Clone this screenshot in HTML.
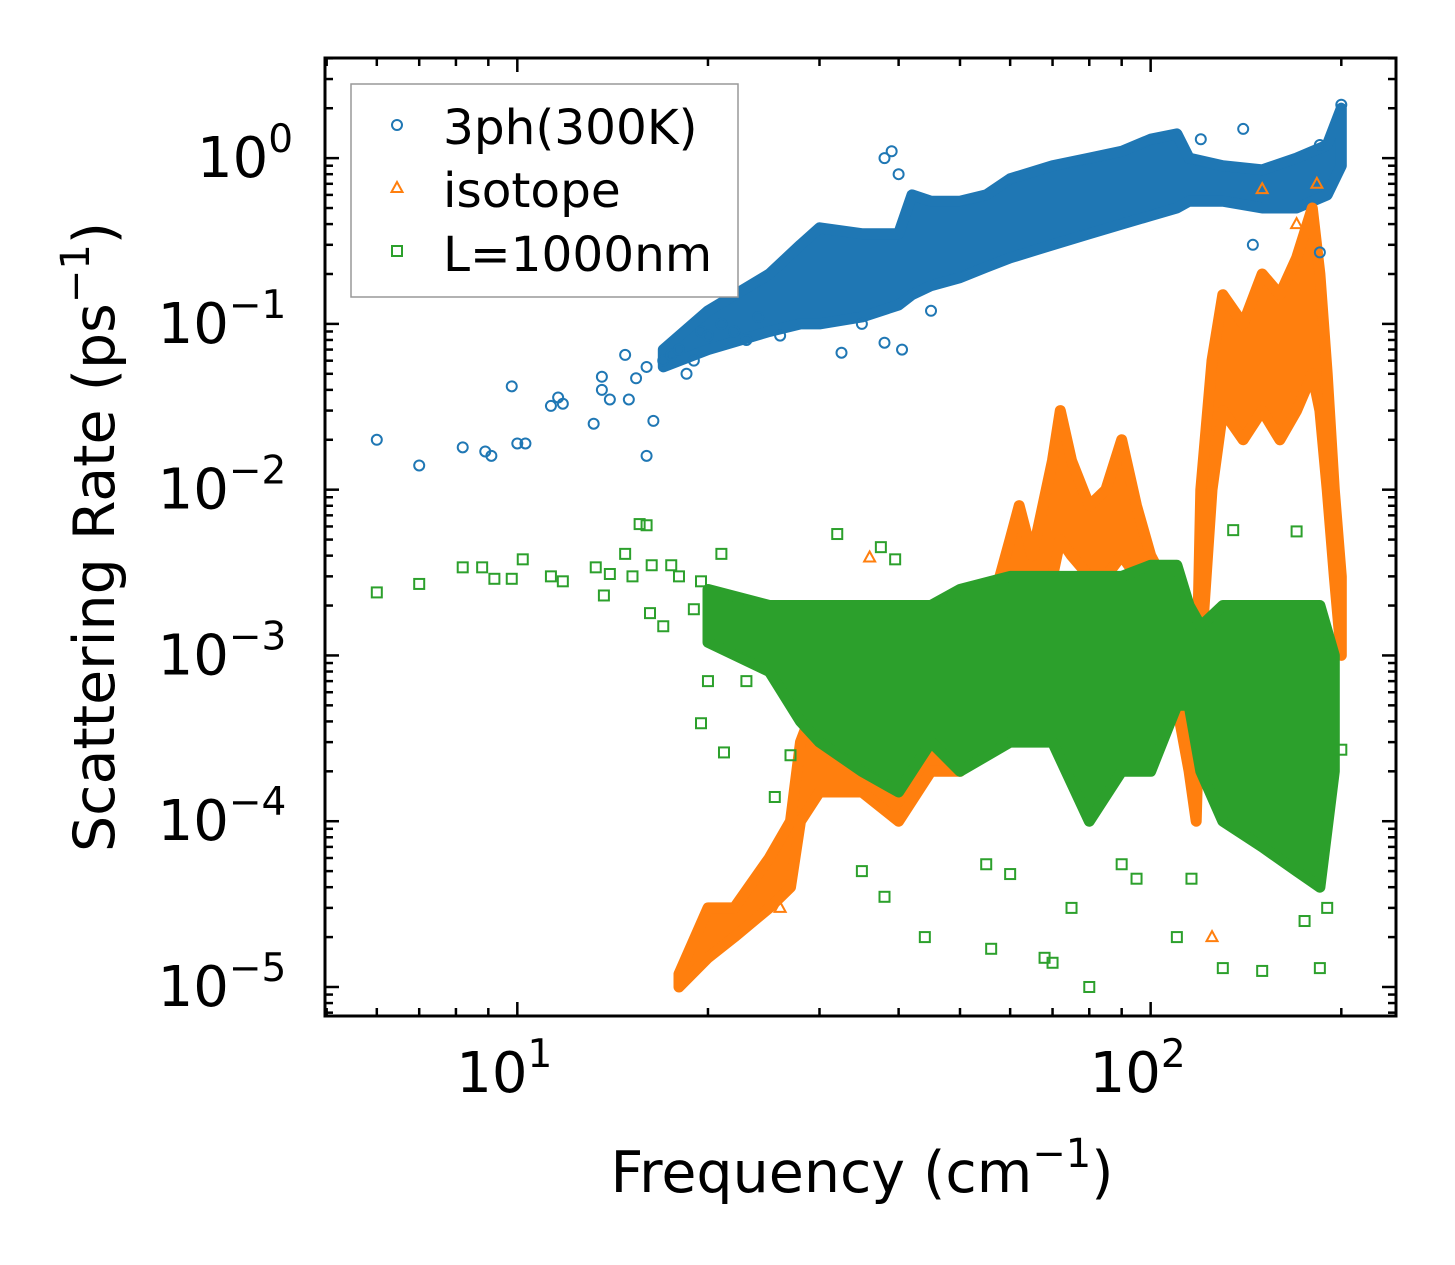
<!DOCTYPE html>
<html><head><meta charset="utf-8"><style>
html,body{margin:0;padding:0;background:#fff;}
svg{display:block;font-family:"DejaVu Sans","Liberation Sans",sans-serif;}
</style></head><body>
<svg id="chart" width="1455" height="1265" viewBox="0 0 1455 1265" xmlns="http://www.w3.org/2000/svg">
<rect width="1455" height="1265" fill="#fff"/>
<defs><clipPath id="plotclip"><rect x="325" y="58" width="1071" height="958"/></clipPath></defs>
<g id="bands" clip-path="url(#plotclip)"></g>
<g id="pts" clip-path="url(#plotclip)"></g>
<g id="axes"></g>
<text x="862" y="1192" font-size="57" text-anchor="middle">Frequency (cm<tspan dy="-25" font-size="40">−1</tspan><tspan dy="25">)</tspan></text>
<text transform="translate(114,537) rotate(-90)" font-size="57" text-anchor="middle">Scattering Rate (ps<tspan dy="-25" font-size="40">−1</tspan><tspan dy="25">)</tspan></text>
<g>
<rect x="351" y="84" width="387" height="213" fill="#fff" stroke="#999" stroke-width="1.5"/>
<circle cx="397" cy="125" r="5" fill="none" stroke="#1f77b4" stroke-width="2"/>
<path d="M397,182L402.5,192L391.5,192Z" fill="none" stroke="#ff7f0e" stroke-width="2"/>
<rect x="392" y="246" width="10" height="10" fill="none" stroke="#2ca02c" stroke-width="2"/>
<text x="443" y="144" font-size="48.5">3ph(300K)</text>
<text x="443" y="207" font-size="48.5">isotope</text>
<text x="443" y="271" font-size="48.5">L=1000nm</text>
</g>
</svg>
<script>
// ---- data ----
const bandFreq3ph = [17,20,25,28,30,35,40,42,45,50,55,60,70,80,90,100,110,115,130,150,170,190,200];
const bandLo3ph   = [0.055,0.07,0.09,0.1,0.1,0.11,0.13,0.15,0.17,0.19,0.22,0.25,0.3,0.35,0.4,0.45,0.5,0.55,0.55,0.5,0.5,0.6,0.9];
const bandHi3ph   = [0.07,0.12,0.2,0.3,0.38,0.35,0.35,0.6,0.55,0.55,0.6,0.75,0.9,1.0,1.1,1.3,1.4,1.0,0.9,0.85,1.0,1.2,2.0];
const ptsFreq3ph = [6,7,8.2,8.9,9.1,9.8,10,10.3,11.3,11.6,11.8,13.2,13.6,13.6,14,14.8,15,15.4,16,16.4,16,17,17.5,18,18.5,19,19.5,20,21,22,23,24,26,32.5,38,40.5,38,40,39,35,45,120,140,185,200,145,185];
const ptsVal3ph  = [0.02,0.014,0.018,0.017,0.016,0.042,0.019,0.019,0.032,0.036,0.033,0.025,0.048,0.04,0.035,0.065,0.035,0.047,0.016,0.026,0.055,0.06,0.065,0.07,0.05,0.06,0.09,0.085,0.1,0.09,0.08,0.11,0.085,0.067,0.077,0.07,1.0,0.8,1.1,0.1,0.12,1.3,1.5,1.2,2.1,0.3,0.27];
const bandFreqIso = [18,20,22,25,27,28,30,35,40,45,50,55,60,62,65,70,72,75,80,85,90,95,100,110,115,118,120,125,130,140,150,160,170,180,185,190,195,200];
const bandLoIso   = [1e-5,1.5e-5,2e-5,3e-5,4e-5,1e-4,1.5e-4,1.5e-4,1e-4,2e-4,2e-4,5e-4,1e-3,2e-3,2e-3,3e-3,5e-3,4e-3,3e-3,3e-3,4e-3,3e-3,1e-3,5e-4,2e-4,1e-4,1e-3,1e-2,3e-2,2e-2,3e-2,2e-2,3e-2,5e-2,3e-2,1e-2,3e-3,1e-3];
const bandHiIso   = [1.2e-5,3e-5,3e-5,6e-5,1e-4,3e-4,6e-4,8e-4,4e-4,3e-4,5e-4,1.5e-3,5e-3,8e-3,4e-3,1.5e-2,3e-2,1.5e-2,8e-3,1e-2,2e-2,8e-3,4e-3,2e-3,1e-3,5e-4,1e-2,6e-2,1.5e-1,1e-1,2e-1,1.5e-1,2.5e-1,5e-1,2e-1,5e-2,1e-2,3e-3];
const ptsFreqIso = [26,36,125,150,183,170];
const ptsValIso  = [3e-5,3.9e-3,2e-5,0.65,0.7,0.4];
const bandFreqL = [20,25,28,30,35,40,45,50,60,70,80,90,100,110,115,120,130,150,170,185,195];
const bandLoL   = [1.2e-3,8e-4,4e-4,3e-4,2e-4,1.5e-4,3e-4,2e-4,3e-4,3e-4,1e-4,2e-4,2e-4,5e-4,5e-4,2e-4,1e-4,7e-5,5e-5,4e-5,2e-4];
const bandHiL   = [2.5e-3,2e-3,2e-3,2e-3,2e-3,2e-3,2e-3,2.5e-3,3e-3,3e-3,3e-3,3e-3,3.5e-3,3.5e-3,2e-3,1.5e-3,2e-3,2e-3,2e-3,2e-3,1e-3];
const ptsFreqL = [6,7,8.2,8.8,9.2,9.8,10.2,11.3,11.8,13.3,13.7,14,14.8,15.2,15.6,16,16.3,16.2,17,17.5,18,19,19.5,20,21,21.2,19.5,23,25.5,27,32,37.5,39.5,35,38,44,55,56,60,68,70,75,80,90,95,110,116,130,135,150,170,175,185,190,200];
const ptsValL  = [0.0024,0.0027,0.0034,0.0034,0.0029,0.0029,0.0038,0.003,0.0028,0.0034,0.0023,0.0031,0.0041,0.003,0.0062,0.0061,0.0035,0.0018,0.0015,0.0035,0.003,0.0019,0.0028,0.0007,0.0041,0.00026,0.00039,0.0007,0.00014,0.00025,0.0054,0.0045,0.0038,0.00005,0.000035,0.00002,0.000055,0.000017,0.000048,0.000015,0.000014,0.00003,0.00001,0.000055,0.000045,0.00002,0.000045,0.000013,0.0057,0.0000125,0.0056,0.000025,0.000013,0.00003,0.00027];
const xTickVals = [1,2];
const yTickVals = [0,-1,-2,-3,-4,-5];

const X0=325,X1=1396,Y0=58,Y1=1016;
const xMin=Math.log10(4.97), xMax=Math.log10(244);
const yMin=-5.175, yMax=0.604;
function sx(v){return X0+(Math.log10(v)-xMin)/(xMax-xMin)*(X1-X0);}
function sy(v){return Y1-(Math.log10(v)-yMin)/(yMax-yMin)*(Y1-Y0);}
const NS="http://www.w3.org/2000/svg";
function mk(tag,attrs,parent){const e=document.createElementNS(NS,tag);for(const k in attrs)e.setAttribute(k,attrs[k]);parent.appendChild(e);return e;}
const gB=document.getElementById('bands'), gP=document.getElementById('pts'), gA=document.getElementById('axes');

function band(fr,lo,hi,color,name){
  let d='';
  fr.forEach((f,i)=>{d+=(i?'L':'M')+sx(f).toFixed(1)+','+sy(hi[i]).toFixed(1);});
  for(let i=fr.length-1;i>=0;i--) d+='L'+sx(fr[i]).toFixed(1)+','+sy(lo[i]).toFixed(1);
  d+='Z';
  const p=mk('path',{d:d,fill:color,stroke:color,'stroke-width':11,'stroke-linejoin':'round'},gB);
  
  
}
function marker(type,x,y,color,parent){
  if(type==='o') return mk('circle',{cx:x,cy:y,r:5,fill:'none',stroke:color,'stroke-width':2},parent);
  if(type==='^') return mk('path',{d:`M${x},${y-6}L${x+5.5},${y+4}L${x-5.5},${y+4}Z`,fill:'none',stroke:color,'stroke-width':2},parent);
  return mk('rect',{x:x-5,y:y-5,width:10,height:10,fill:'none',stroke:color,'stroke-width':2},parent);
}
function points(fr,vals,type,color,name){
  fr.forEach((f,i)=>{
    const e=marker(type,sx(f),sy(vals[i]),color,gP);
    
    
  });
}
const C1='#1f77b4',C2='#ff7f0e',C3='#2ca02c';
band(bandFreq3ph,bandLo3ph,bandHi3ph,C1,'3ph-dense-band');
points(ptsFreq3ph,ptsVal3ph,'o',C1,'3ph-point');
band(bandFreqIso,bandLoIso,bandHiIso,C2,'isotope-dense-band');
points(ptsFreqIso,ptsValIso,'^',C2,'isotope-point');
band(bandFreqL,bandLoL,bandHiL,C3,'boundary-dense-band');
points(ptsFreqL,ptsValL,'s',C3,'boundary-point');

function tick(x1,y1,x2,y2,w){mk('line',{x1:x1,y1:y1,x2:x2,y2:y2,stroke:'#000','stroke-width':w},gA);}
for(let dec=0;dec<=2;dec++){for(let m=1;m<10;m++){
  const v=m*Math.pow(10,dec); if(v<4.97||v>244) continue;
  const x=sx(v), L=(m===1)?14:8;
  tick(x,Y1,x,Y1-L,2.5); tick(x,Y0,x,Y0+L,2.5);
}}
for(let dec=-6;dec<=0;dec++){for(let m=1;m<10;m++){
  const v=m*Math.pow(10,dec); const lv=Math.log10(v); if(lv<yMin||lv>yMax) continue;
  const y=sy(v), L=(m===1)?14:8;
  tick(X0,y,X0+L,y,2.5); tick(X1,y,X1-L,y,2.5);
}}
const spine=mk('rect',{x:X0,y:Y0,width:X1-X0,height:Y1-Y0,fill:'none',stroke:'#000','stroke-width':3},gA);


xTickVals.forEach(e=>{
  const t=mk('text',{x:sx(Math.pow(10,e))-13,y:1092,'font-size':56,'text-anchor':'middle'},gA);
  
  
  t.textContent='10';
  const s=mk('tspan',{dy:-25,'font-size':39},t); s.textContent=String(e);
});
yTickVals.forEach(e=>{
  const y=sy(Math.pow(10,e));
  const t=mk('text',{x:e===0?245:222,y:y+19,'font-size':56,'text-anchor':'middle'},gA);
  
  
  t.textContent='10';
  const s=mk('tspan',{dy:-25,'font-size':39},t); s.textContent=(e===0?'0':'\u2212'+(-e));
});
</script>
</body></html>
